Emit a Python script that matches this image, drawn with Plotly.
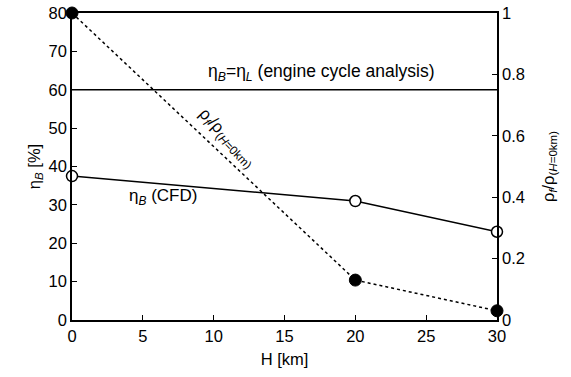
import plotly.graph_objects as go

H = [0, 20, 30]
eta_cfd = [37.5, 31.0, 23.0]
rho_ratio = [1.0, 0.13, 0.03]
H_line = [0, 30]
eta_cycle = [60, 60]

FONT = "Liberation Sans, Arial, sans-serif"

fig = go.Figure()
fig.add_trace(go.Scatter(x=H_line, y=eta_cycle, mode="lines",
                         line=dict(color="black", width=1.5), showlegend=False))
fig.add_trace(go.Scatter(x=H, y=rho_ratio, mode="lines+markers", yaxis="y2",
                         line=dict(color="black", width=1.5, dash="dot"),
                         marker=dict(color="black", size=12, line=dict(color="black", width=1)),
                         showlegend=False, cliponaxis=False))
fig.add_trace(go.Scatter(x=H, y=eta_cfd, mode="lines+markers",
                         line=dict(color="black", width=1.5),
                         marker=dict(color="white", size=11, line=dict(color="black", width=1.5)),
                         showlegend=False, cliponaxis=False))

axis_common = dict(showline=True, linecolor="black", linewidth=1.5, ticks="inside",
                   ticklen=5, tickcolor="black", showgrid=False, zeroline=False,
                   automargin=False,
                   tickfont=dict(size=16.5, color="black", family=FONT))

fig.update_layout(
    width=571, height=377,
    margin=dict(l=72, r=74, t=13, b=57),
    plot_bgcolor="white", paper_bgcolor="white",
    font=dict(family=FONT, color="black", size=16),
    xaxis=dict(range=[0, 30], dtick=5, mirror=True,
               title=dict(text="H [km]", font=dict(size=16.5), standoff=10), **axis_common),
    yaxis=dict(range=[0, 80], dtick=10,
               title=dict(text="η<sub><i>B</i></sub> [%]", font=dict(size=16.5), standoff=4), **axis_common),
    yaxis2=dict(range=[0, 1], dtick=0.2, overlaying="y", side="right",
                title=dict(text="ρ<sub><i>f</i></sub>/ρ<sub>(<i>H</i>=0km)</sub>", font=dict(size=16.5), standoff=18),
                tickvals=[0, 0.2, 0.4, 0.6, 0.8, 1], ticktext=["0", "0.2", "0.4", "0.6", "0.8", "1"],
                **axis_common),
)

fig.add_annotation(x=17.6, y=64.6, xref="x", yref="y", showarrow=False,
                   text="η<sub><i>B</i></sub>=η<sub><i>L</i></sub> (engine cycle analysis)",
                   font=dict(size=17.5, color="black"))
fig.add_annotation(x=6.4, y=32.0, xref="x", yref="y", showarrow=False,
                   text="η<sub><i>B</i></sub> (CFD)", font=dict(size=17, color="black"))
fig.add_annotation(x=10.9, y=47.4, xref="x", yref="y", showarrow=False, textangle=46,
                   text="ρ<sub><i>f</i></sub>/ρ<sub>(<i>H</i>=0km)</sub>", font=dict(size=17, color="black"))

fig.write_html("out.html", config={"displayModeBar": False},
               post_script="document.body.style.margin='0';document.body.style.overflow='hidden';")
